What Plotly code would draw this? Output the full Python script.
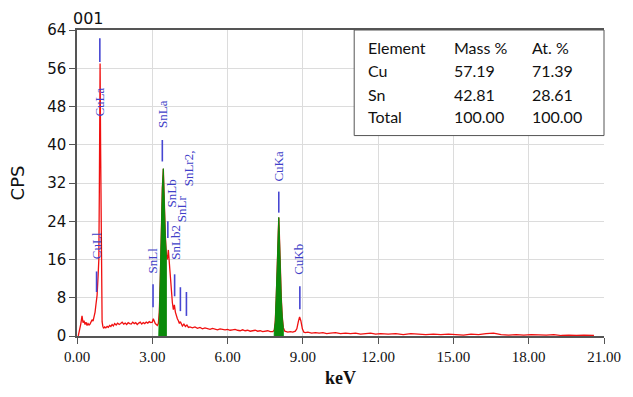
import plotly.graph_objects as go

# ---------------- data ----------------
ENERGY = [0.05, 0.10, 0.15, 0.20, 0.24, 0.28, 0.32, 0.36, 0.40, 0.44, 0.48, 0.52, 0.56, 0.60,
          0.64, 0.68, 0.72, 0.76, 0.80, 0.84, 0.87, 0.89, 0.90, 0.92, 0.94, 0.96, 0.98, 1.00,
          1.03, 1.06, 1.10, 1.15, 1.20, 1.25, 1.30, 1.35, 1.40, 1.45, 1.50, 1.56, 1.62, 1.68,
          1.74, 1.80, 1.86, 1.92, 1.98, 2.04, 2.10, 2.16, 2.22, 2.28, 2.34, 2.40, 2.46, 2.52,
          2.58, 2.64, 2.70, 2.76, 2.82, 2.88, 2.94, 3.00, 3.04, 3.08, 3.12, 3.16, 3.20, 3.24,
          3.28, 3.32, 3.36, 3.40, 3.44, 3.48, 3.52, 3.56, 3.60, 3.64, 3.68, 3.72, 3.76, 3.80,
          3.84, 3.88, 3.92, 3.96, 4.00, 4.04, 4.08, 4.12, 4.16, 4.20, 4.26, 4.32, 4.38, 4.44,
          4.50, 4.60, 4.70, 4.80, 4.90, 5.00, 5.10, 5.20, 5.30, 5.40, 5.50, 5.60, 5.70, 5.80,
          5.90, 6.00, 6.10, 6.20, 6.30, 6.40, 6.50, 6.60, 6.70, 6.80, 6.90, 7.00, 7.10, 7.20,
          7.30, 7.40, 7.50, 7.60, 7.70, 7.80, 7.86, 7.90, 7.94, 7.98, 8.02, 8.04, 8.06, 8.10,
          8.14, 8.18, 8.22, 8.28, 8.34, 8.40, 8.50, 8.60, 8.70, 8.76, 8.82, 8.87, 8.92, 8.98,
          9.04, 9.10, 9.20, 9.35, 9.50, 9.65, 9.80, 9.95, 10.10, 10.30, 10.50, 10.70, 10.90,
          11.10, 11.30, 11.50, 11.70, 11.90, 12.10, 12.40, 12.70, 13.00, 13.30, 13.60, 13.90,
          14.20, 14.50, 14.80, 15.10, 15.40, 15.70, 16.00, 16.30, 16.60, 16.90, 17.20, 17.50,
          17.80, 18.10, 18.40, 18.70, 19.00, 19.30, 19.60, 19.90, 20.20, 20.60]
CPS = [0.0, 1.0, 2.5, 4.2, 2.8, 3.2, 2.4, 2.9, 2.2, 2.6, 2.3, 2.5, 2.9, 3.4,
       3.1, 3.9, 5.0, 6.8, 8.5, 12.5, 16.0, 30.0, 41.0, 57.0, 40.0, 16.0, 7.0, 3.0,
       2.0, 1.6, 1.9, 1.7, 2.0, 1.8, 2.2, 2.0, 2.4, 2.1, 2.6, 2.3, 2.7, 2.4,
       2.6, 2.9, 2.5, 2.7, 2.4, 2.8, 2.6, 2.5, 2.9, 2.6, 2.8, 2.4, 2.7, 2.9,
       2.5, 2.8, 2.6, 2.9, 2.7, 3.0, 2.8, 2.9, 3.6, 3.0, 2.6, 2.4, 2.2, 2.6,
       5.0, 12.0, 25.0, 31.0, 35.0, 27.0, 21.0, 17.0, 16.0, 18.0, 15.0, 11.0, 9.0, 7.0,
       5.5, 6.5, 5.0, 4.0, 3.6, 3.2, 2.6, 3.0, 2.4, 2.1, 2.5, 2.0, 2.3, 1.8,
       1.9, 1.7, 1.9, 1.6, 1.8, 1.5, 1.7, 1.6, 1.4, 1.6, 1.5, 1.3, 1.5, 1.4,
       1.3, 1.4, 1.2, 1.3, 1.4, 1.2, 1.1, 1.3, 1.1, 1.2, 1.0, 1.1, 1.2, 1.0,
       1.1, 0.9, 1.0, 1.1, 0.9, 0.9, 1.2, 3.0, 8.0, 15.0, 22.0, 24.8, 22.0, 14.0,
       8.0, 4.0, 1.8, 1.0, 0.9, 0.8, 0.9, 0.8, 1.0, 1.5, 3.0, 4.0, 3.2, 1.5,
       0.8, 0.7, 0.8, 0.6, 0.7, 0.6, 0.7, 0.5, 0.6, 0.7, 0.5, 0.6, 0.5,
       0.6, 0.4, 0.5, 0.6, 0.4, 0.5, 0.4, 0.5, 0.3, 0.5, 0.4, 0.3,
       0.4, 0.3, 0.4, 0.3, 0.2, 0.4, 0.3, 0.5, 0.6, 0.3, 0.2, 0.3,
       0.2, 0.3, 0.2, 0.2, 0.3, 0.1, 0.2, 0.1, 0.2, 0.1]

# integration windows (keV) filled in green
ROI_START = [3.26, 7.86]
ROI_END = [3.56, 8.22]

# characteristic line markers
LINE_NAMES = ["CuLl", "CuLa", "SnLl", "SnLa", "SnLb", "SnLb2", "SnLr", "SnLr2,", "CuKa", "CuKb"]
LINE_KEV = [0.78, 0.91, 3.03, 3.40, 3.62, 3.89, 4.12, 4.36, 8.04, 8.88]
MARK_LOW = [9.2, 57.3, 6.0, 36.5, 20.5, 8.3, 5.2, 4.2, 25.8, 5.6]
MARK_HIGH = [13.5, 62.3, 10.8, 41.0, 24.0, 12.9, 10.2, 9.2, 30.2, 10.4]
LABEL_KEV = [0.76, 0.91, 3.01, 3.40, 3.78, 3.94, 4.14, 4.45, 8.04, 8.82]
LABEL_Y = [18.8, 49.0, 15.7, 46.5, 29.8, 19.7, 26.7, 35.0, 35.6, 16.0]

TABLE_HEAD = ["Element", "Mass %", "At. %"]
TABLE_ELEM = ["Cu", "Sn", "Total"]
TABLE_MASS = ["57.19", "42.81", "100.00"]
TABLE_AT = ["71.39", "28.61", "100.00"]

X_TICKS = [0, 3, 6, 9, 12, 15, 18, 21]
Y_TICKS = [0, 8, 16, 24, 32, 40, 48, 56, 64]

# ---------------- figure ----------------
fig = go.Figure()

fig.add_trace(go.Scatter(x=ENERGY, y=CPS, mode="lines",
                         line=dict(color="#f01010", width=1.3), hoverinfo="skip"))

for s, e in zip(ROI_START, ROI_END):
    xs = [s]
    ys = [0]
    for xv, yv in zip(ENERGY, CPS):
        if s <= xv <= e:
            xs.append(xv)
            ys.append(yv)
    xs.append(e)
    ys.append(0)
    fig.add_trace(go.Scatter(x=xs, y=ys, mode="lines", fill="toself",
                             fillcolor="#0a8a0a", line=dict(color="#0a8a0a", width=1),
                             hoverinfo="skip"))

mx, my = [], []
for k, lo, hi in zip(LINE_KEV, MARK_LOW, MARK_HIGH):
    mx += [k, k, None]
    my += [lo, hi, None]
fig.add_trace(go.Scatter(x=mx, y=my, mode="lines",
                         line=dict(color="#4646d2", width=1.6), hoverinfo="skip"))

for name, kx, ly in zip(LINE_NAMES, LABEL_KEV, LABEL_Y):
    fig.add_annotation(x=kx, y=ly, xref="x", yref="y", text=name, showarrow=False,
                       textangle=-90,
                       font=dict(family="Liberation Serif", size=13, color="#4040c8"))

# table box
fig.add_shape(type="rect", xref="paper", yref="paper", x0=0.526, x1=1.0, y0=0.655, y1=1.0,
              fillcolor="white", line=dict(color="#555555", width=1), layer="above")

tfont = dict(family="Lato", size=16, color="#111111")
col_x = [369, 456, 535]
row_y = [48, 71, 95, 117]
L, T, W, H = 77, 30, 533, 307
def px(xp):
    return (xp - L) / W
def py(yp):
    return 1 - (yp - T) / H

for cx, txt in zip(col_x, TABLE_HEAD):
    fig.add_annotation(x=px(cx), y=py(row_y[0]), xref="paper", yref="paper", text=txt,
                       showarrow=False, xanchor="left", yanchor="middle", font=tfont)
for i in range(3):
    for cx, col in zip(col_x, [TABLE_ELEM, TABLE_MASS, TABLE_AT]):
        fig.add_annotation(x=px(cx), y=py(row_y[i + 1]), xref="paper", yref="paper",
                           text=col[i], showarrow=False, xanchor="left", yanchor="middle",
                           font=tfont)

fig.add_annotation(x=px(71), y=py(18), xref="paper", yref="paper", text="001",
                   showarrow=False, xanchor="left", yanchor="middle",
                   font=dict(family="DejaVu Sans", size=16, color="#111111"))

fig.update_layout(
    width=633, height=397,
    margin=dict(l=L, r=633 - 610, t=T, b=397 - 337),
    paper_bgcolor="white", plot_bgcolor="white",
    showlegend=False,
    xaxis=dict(range=[0, 21], tickvals=X_TICKS, ticktext=["%.2f" % v for v in X_TICKS],
               showgrid=True, gridcolor="#dcdcdc", gridwidth=1,
               showline=True, linecolor="#555555", linewidth=1.5, mirror=True,
               ticks="outside", ticklen=6, tickcolor="#555555",
               tickfont=dict(family="Liberation Serif", size=15, color="#111111"),
               title=dict(text="<b>keV</b>", font=dict(family="Liberation Serif", size=18, color="#111111"),
                          standoff=8),
               zeroline=False),
    yaxis=dict(range=[0, 64], tickvals=Y_TICKS,
               showgrid=True, gridcolor="#dcdcdc", gridwidth=1,
               showline=True, linecolor="#555555", linewidth=1.5,
               ticks="outside", ticklen=6, tickcolor="#555555",
               tickfont=dict(family="DejaVu Sans", size=15, color="#111111"),
               title=dict(text="CPS", font=dict(family="DejaVu Sans", size=18, color="#111111"),
                          standoff=18),
               zeroline=False),
)

fig.write_html("out.html")
